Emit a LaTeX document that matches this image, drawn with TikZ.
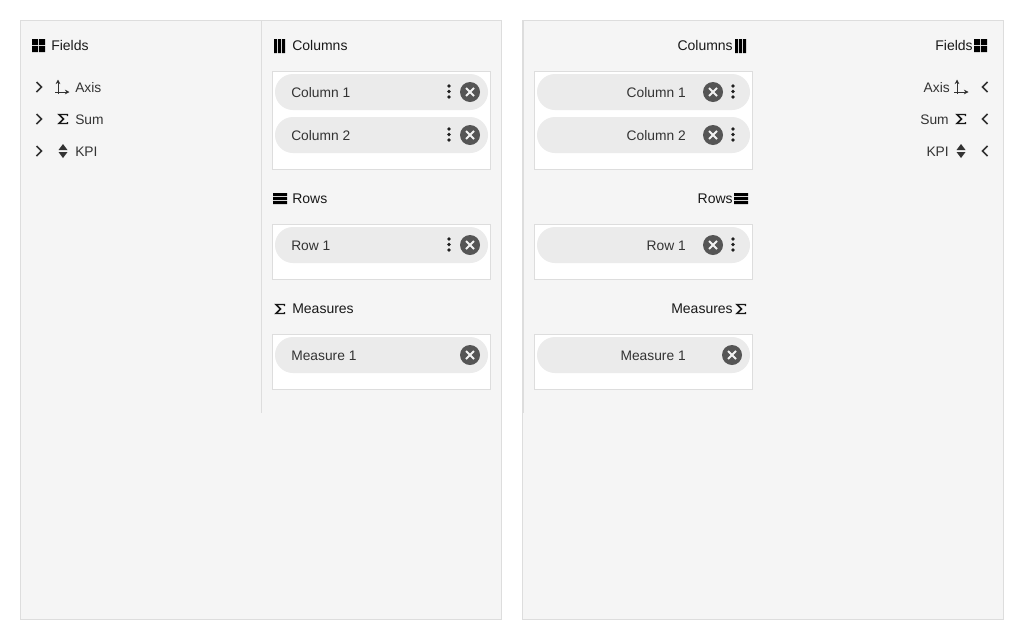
\documentclass[tikz,border=0pt]{standalone}
\usepackage{fontspec}
\setmainfont{Liberation Sans}
\usetikzlibrary{arrows.meta}

\definecolor{panelbg}{HTML}{F5F5F5}
\definecolor{panelline}{HTML}{DDDDDD}
\definecolor{chipbg}{HTML}{EBEBEB}
\definecolor{closebg}{HTML}{555555}
\definecolor{labelcol}{HTML}{333333}

\tikzset{
  panel/.style={fill=panelbg,draw=panelline,line width=0.75pt},
  well/.style={fill=white,draw=panelline,line width=0.75pt},
  chip/.style={fill=chipbg,rounded corners=13.5pt},
  txt/.style={inner sep=0pt,text height=7.5pt,text depth=0pt,font=\fontsize{10.5}{12}\selectfont},
  head/.style={txt,text=black!90},
  label/.style={txt,text=labelcol,font=\fontsize{10.35}{12}\selectfont},
  chevron/.style={draw=labelcol,line width=1.15pt},
  gridicon/.pic={
    \fill[black] (-6.5,-6.5) rectangle (-0.5,-0.5) (0.5,-6.5) rectangle (6.5,-0.5)
      (-6.5,0.5) rectangle (-0.5,6.5) (0.5,0.5) rectangle (6.5,6.5);
  },
  colsicon/.pic={
    \fill[black] (-5.5,-7) rectangle (-2.5,7) (-1.5,-7) rectangle (1.5,7) (2.5,-7) rectangle (5.5,7);
  },
  rowsicon/.pic={
    \fill[black] (-7,-5.5) rectangle (7,-2.5) (-7,-1.5) rectangle (7,1.5) (-7,2.5) rectangle (7,5.5);
  },
  sumicon/.pic={
    \draw[black!90,line width=1.1pt,line join=miter] (4.5,-3) -- (4.5,-4.5) -- (-4,-4.5) -- (0.5,0) -- (-4,4.5) -- (4.5,4.5) -- (4.5,3);
  },
  sorticon/.pic={
    \fill[labelcol] (-4.5,-1) -- (4.5,-1) -- (0,-7) -- cycle (-4.5,1) -- (4.5,1) -- (0,7) -- cycle;
  },
  axisicon/.pic={
    \draw[labelcol,line width=0.7pt,-{Stealth[length=3.5pt,width=3.5pt]}] (0,2) -- (0,-12.5);
    \draw[labelcol,line width=0.7pt,-{Stealth[length=3.5pt,width=3.5pt]}] (-3,0) -- (11.5,0);
  },
  closeicon/.pic={
    \fill[closebg] (0,0) circle (10);
    \draw[white!95!black,line width=1.5pt] (-4,-4) -- (4,4) (-4,4) -- (4,-4);
  },
  moreicon/.pic={
    \fill[labelcol!60!black] (0,-5.5) circle (1.8) (0,0) circle (1.8) (0,5.5) circle (1.8);
  }
}

\begin{document}
\begin{tikzpicture}[x=0.75pt,y=-0.75pt,line cap=butt]
  \useasboundingbox (0,0) rectangle (1024,640);
  \fill[white] (0,0) rectangle (1024,640);

  % the two panels and their dividers
  \draw[panel] (20.5,20.5) rectangle (501.5,619.5);
  \draw[panel] (522.5,20.5) rectangle (1003.5,619.5);
  \draw[panelline,line width=0.75pt] (261.5,21) -- (261.5,413);
  \draw[panelline,line width=0.75pt] (523.5,21) -- (523.5,413);

  % wells
  \foreach \wx in {272.5,534.5} {
    \draw[well] (\wx,71.5) rectangle ++(218,98);
    \draw[well] (\wx,224.5) rectangle ++(218,55);
    \draw[well] (\wx,334.5) rectangle ++(218,55);
  }

  % chips
  \foreach \cx in {275,537} {
    \foreach \cy in {74,117,227,337} {
      \fill[chip] (\cx,\cy) rectangle ++(213,36);
    }
  }

  %--- left panel: field list
  \pic at (38.5,45.5) {gridicon};
  \node[head,anchor=west] (fieldsL) at (51,45) {Fields};
  \foreach \ry/\rname/\rtext in {87/axisL/Axis,119/sumL/Sum,151/kpiL/KPI} {
    \draw[chevron] (36.5,\ry-5) -- (41.5,\ry) -- (36.5,\ry+5);
    \node[label,anchor=west] (\rname) at (75,\ry) {\rtext};
  }
  \pic at (58,92) {axisicon};
  \pic at (63,119) {sumicon};
  \pic at (63,151) {sorticon};

  %--- left panel: section headings
  \pic at (279.5,46) {colsicon};
  \pic at (280,198.5) {rowsicon};
  \pic at (280,309) {sumicon};
  \node[head,anchor=west] (colsL) at (292,45) {Columns};
  \node[head,anchor=west] (rowsL) at (292,198) {Rows};
  \node[head,anchor=west] (measL) at (292,308) {Measures};

  %--- left panel: chip contents
  \foreach \ry/\rname/\rtext in {92/colaL/Column 1,135/colbL/Column 2,245/rowaL/Row 1,355/meaL/Measure 1} {
    \node[label,anchor=west] (\rname) at (291,\ry) {\rtext};
    \pic at (470,\ry) {closeicon};
  }
  \foreach \ry in {92,135,245} {
    \pic at (449,\ry-0.5) {moreicon};
  }

  %--- right panel: field list
  \pic at (980.5,45.5) {gridicon};
  \node[head,anchor=east] (fieldsR) at (973,45) {Fields};
  \node[label,anchor=east] (axisR) at (950,87) {Axis};
  \node[label,anchor=east] (sumR) at (949,119) {Sum};
  \node[label,anchor=east] (kpiR) at (949,151) {KPI};
  \foreach \ry in {87,119,151} {
    \draw[chevron] (987.5,\ry-5) -- (982.5,\ry) -- (987.5,\ry+5);
  }
  \pic at (957,92) {axisicon};
  \pic at (961,119) {sumicon};
  \pic at (961,151) {sorticon};

  %--- right panel: section headings
  \pic at (740.5,46) {colsicon};
  \pic at (741,198.5) {rowsicon};
  \pic at (741,309) {sumicon};
  \node[head,anchor=east] (colsR) at (733,45) {Columns};
  \node[head,anchor=east] (rowsR) at (733,198) {Rows};
  \node[head,anchor=east] (measR) at (733,308) {Measures};

  %--- right panel: chip contents
  \foreach \ry/\rname/\rtext in {92/colaR/Column 1,135/colbR/Column 2,245/rowaR/Row 1,355/meaR/Measure 1} {
    \node[label,anchor=east] (\rname) at (686,\ry) {\rtext};
  }
  \foreach \ry in {92,135,245} {
    \pic at (713,\ry) {closeicon};
    \pic at (733,\ry-0.5) {moreicon};
  }
  \pic at (732,355) {closeicon};
\end{tikzpicture}
\end{document}
